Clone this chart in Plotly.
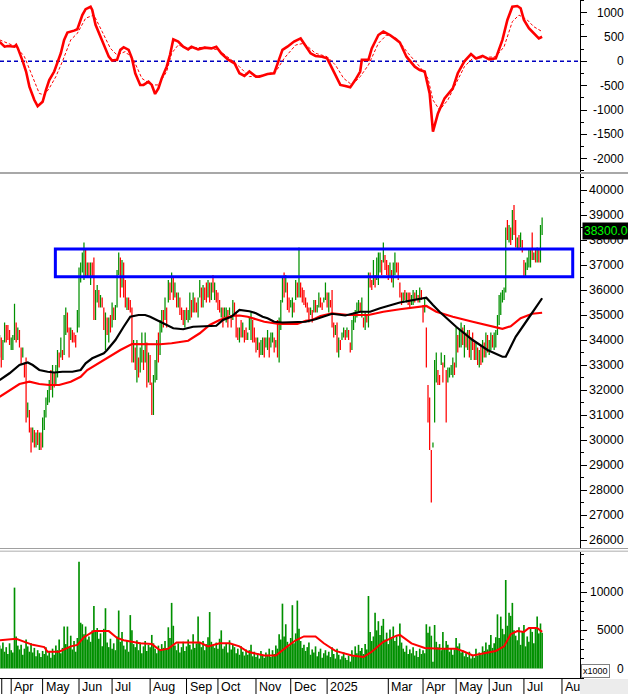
import pandas as pd
import plotly.graph_objects as go

# ---------------- data ----------------
high = [
34200, 34100, 34000, 34700, 34600, 34600, 34400, 34100, 34200, 35450,
34700, 34500, 34400, 33700, 33700, 33100, 33300, 31500, 31200, 30500,
30500, 30400, 30300, 30400, 30300, 30300, 30900, 31200, 31700, 32000,
32400, 32800, 33000, 32700, 33000, 33600, 33500, 34100, 33600, 35000,
35300, 35100, 34500, 34500, 34400, 34300, 34200, 35200, 36900, 37100,
37500, 37900, 37600, 37100, 37100, 37100, 37100, 37300, 36000, 36200,
36000, 35800, 35700, 35300, 35100, 34900, 34900, 35000, 35500, 35300,
35400, 36800, 37500, 37300, 37200, 37100, 36400, 35700, 35700, 35600,
35300, 34000, 33700, 34000, 33300, 33700, 34300, 33600, 34300, 33900,
33500, 33400, 32300, 32600, 33200, 34000, 34300, 34800, 35200, 35200,
35700, 35300, 36400, 36300, 36700, 36500, 36300, 35900, 35900, 35700,
35300, 35200, 35200, 35300, 35200, 35900, 35600, 35900, 35700, 35500,
35700, 36400, 36100, 36200, 36100, 36300, 36400, 36300, 36300, 36600,
36300, 36000, 35900, 35600, 35300, 35300, 35300, 35300, 35200, 35300,
35000, 35600, 35500, 35100, 34500, 34500, 34800, 34700, 34400, 34500,
34300, 34900, 35100, 34800, 34500, 34100, 34100, 33900, 34000, 34100,
34100, 34100, 34400, 34100, 34300, 34300, 34100, 34000, 34800, 34900,
35600, 36500, 36700, 36600, 36300, 35700, 35600, 35700, 35500, 36400,
36300, 37700, 36300, 36100, 36000, 35700, 35500, 35300, 35300, 35200,
35600, 35600, 35400, 35900, 35700, 35500, 35700, 36300, 35900, 35900,
35600, 36000, 34700, 34600, 34700, 34100, 34000, 34300, 34500, 34400,
34500, 34400, 33900, 34800, 35100, 35200, 35500, 35600, 35500, 35700,
34900, 35100, 35000, 36700, 36700, 36400, 37200, 36600, 37300, 37500,
37500, 37200, 37900, 37400, 37200, 37000, 37100, 36800, 37100, 37500,
37100, 37100, 36300, 35900, 35900, 36000, 35900, 35900, 35900, 35800,
36000, 35900, 36000, 35800, 36100, 36000, 35400, 35700, 34500, 32200,
31700, 29600, 29900, 33200, 33500, 32800, 32600, 33500, 33100, 33400,
32800, 32900, 32900, 33000, 33300, 33100, 34500, 34200, 34400, 34700,
34500, 34600, 34300, 34400, 34400, 34100, 34300, 33900, 33900, 33700,
33600, 33800, 34000, 33900, 34300, 34200, 34000, 34300, 34200, 34300,
34400, 35000, 35800, 35900, 36000, 36100, 38500, 38800, 38600, 38500,
39200, 39400, 38800, 38100, 38200, 38300, 38000, 37200, 37100, 37300,
37600, 37600, 38300, 37500, 37600, 37700, 37600, 38600, 38900,
]

low = [
33300, 32900, 33200, 33900, 33900, 34000, 33800, 33600, 33600, 34000,
33900, 34000, 33700, 33000, 33300, 32500, 30700, 30900, 30300, 29500,
29900, 29700, 29700, 29800, 29600, 29600, 29700, 30400, 30900, 31400,
31500, 32000, 31700, 32100, 32200, 32500, 32900, 33300, 33200, 33400,
34200, 34300, 33300, 34000, 33900, 33900, 33700, 34300, 34500, 36300,
36700, 36400, 36500, 36500, 36500, 36200, 36500, 34800, 34800, 35500,
35300, 35300, 35300, 34400, 33600, 34200, 33900, 34300, 34500, 34800,
34800, 35300, 36600, 35700, 36100, 35700, 35300, 35200, 35200, 35100,
33100, 33100, 32800, 32300, 32500, 32700, 33100, 32800, 33100, 32100,
32300, 32200, 31000, 31000, 32300, 32400, 33100, 33400, 34300, 34500,
34800, 34500, 35500, 35600, 35900, 35600, 35700, 35300, 35300, 35000,
34800, 34600, 34500, 34800, 34700, 34800, 34900, 35100, 35100, 35100,
34900, 35700, 35300, 35300, 35600, 35500, 35700, 35500, 35600, 35900,
35600, 35500, 35200, 35100, 34900, 34500, 34900, 34700, 34500, 35000,
34500, 34800, 35000, 34100, 34000, 33900, 34100, 34100, 33900, 34000,
34000, 34400, 34000, 33900, 33900, 33500, 33600, 33300, 33400, 33400,
33300, 33700, 33600, 33300, 33700, 33900, 33500, 33700, 33300, 33100,
34400, 35500, 35700, 35900, 35200, 35100, 35300, 34900, 35100, 35600,
35700, 35700, 35700, 35500, 35400, 35300, 35100, 34700, 35000, 34700,
35100, 35100, 35100, 35300, 35300, 35200, 35500, 35600, 35300, 35100,
35300, 34500, 34100, 34200, 33500, 33300, 33600, 34000, 34100, 34000,
34100, 34000, 33500, 33600, 34400, 34700, 34900, 35100, 35100, 34900,
34500, 34400, 34700, 34500, 36100, 36000, 36200, 36100, 36400, 36200,
36700, 36600, 37100, 36800, 36600, 36400, 36500, 36300, 36100, 36600,
36700, 36400, 35700, 35400, 35500, 35600, 35500, 35400, 35300, 35400,
35400, 35500, 35600, 35500, 35500, 35600, 34700, 35100, 32900, 30700,
29600, 27500, 29700, 30700, 32300, 32200, 32200, 33000, 32300, 32900,
30700, 32300, 32500, 32600, 32500, 32600, 32900, 33500, 33700, 33700,
33800, 33300, 33700, 33600, 33300, 33200, 33600, 33200, 33200, 33000,
32900, 33000, 33100, 33300, 33300, 33500, 33400, 33600, 33700, 33600,
33700, 34200, 34600, 35000, 35500, 35600, 35900, 38000, 37900, 37800,
38000, 38200, 37700, 37600, 37600, 37700, 37500, 36500, 36500, 36800,
36900, 36900, 37200, 37200, 37100, 37100, 37100, 37100, 38200,
]

close = [
33900, 33300, 33800, 34500, 34100, 34050, 33700, 33950, 34000, 35000,
34100, 34300, 33800, 33100, 33500, 32600, 31000, 31100, 30600, 29700,
30300, 29800, 30100, 29900, 30200, 29750, 30700, 31000, 31600, 31900,
32200, 32100, 32500, 32300, 32800, 33400, 33100, 33900, 33400, 34800,
35000, 34500, 34000, 34300, 34200, 34000, 33800, 35000, 36700, 36900,
37300, 37500, 36700, 36900, 36600, 36900, 36600, 35000, 35800, 36000,
35500, 35600, 35400, 34600, 34900, 34300, 34700, 34500, 35300, 35100,
35200, 36600, 37200, 36000, 36200, 35900, 35500, 35600, 35300, 35200,
33400, 33800, 33000, 33600, 32700, 33500, 34000, 33000, 34100, 32400,
33200, 32500, 31100, 32400, 33000, 33800, 33400, 34600, 35000, 34800,
35500, 35000, 36200, 35800, 36500, 35800, 35900, 35500, 35700, 35200,
35100, 34800, 35000, 34900, 35100, 35700, 35200, 35600, 35300, 35200,
35500, 36200, 35500, 35900, 35700, 35600, 36200, 35800, 36300, 36000,
36100, 35700, 35400, 35200, 35250, 34700, 35100, 35200, 34800, 35100,
34700, 35400, 35100, 34300, 34100, 34400, 34300, 34500, 34100, 34000,
34200, 34500, 34900, 34100, 34000, 33600, 33900, 33400, 33800, 33900,
33500, 33800, 34200, 33600, 34000, 34100, 33700, 33900, 33500, 34700,
35400, 36300, 35900, 36000, 35400, 35300, 35500, 35600, 35200, 36200,
36000, 36200, 35900, 35700, 35500, 35400, 35200, 34900, 35200, 34900,
35500, 35300, 35350, 35800, 35400, 35300, 35600, 36100, 35600, 35800,
35400, 34700, 34400, 34500, 33700, 34000, 33800, 34200, 34400, 34100,
34400, 34100, 33600, 34600, 35000, 35100, 35300, 35500, 35300, 35600,
34600, 35000, 34800, 36500, 36200, 36100, 37000, 36300, 37100, 37300,
37400, 36800, 37700, 37000, 36800, 36500, 36900, 36400, 36900, 37300,
36800, 36500, 35800, 35600, 35800, 35700, 35800, 35500, 35400, 35700,
35900, 35700, 35900, 35600, 36000, 35700, 34800, 35500, 33000, 30800,
29700, 27600, 29800, 32900, 33300, 32300, 32250, 33400, 32500, 33200,
32100, 32600, 32800, 32900, 33100, 32800, 34300, 34000, 34200, 34500,
33900, 34400, 33800, 34200, 33500, 33900, 33700, 33400, 33700, 33200,
33400, 33200, 33800, 33500, 34100, 33700, 33800, 34100, 33900, 34200,
34300, 34800, 35600, 35700, 35900, 36000, 38400, 38200, 38500, 38000,
38900, 38400, 37900, 38000, 37700, 38100, 37600, 36600, 36900, 37000,
37400, 37500, 37300, 37400, 37200, 37500, 37200, 38000, 38300,
]

volume = [
3000, 2600, 3400, 2200, 2800, 1900, 3300, 2400, 2100, 10600,
4200, 3000, 2500, 3100, 1800, 2600, 3800, 2900, 2200, 3300,
2100, 2700, 1600, 2400, 2000, 1500, 2300, 1900, 2800, 1700,
2200, 1400, 2600, 1800, 3000, 2400, 3800, 2000, 2700, 5500,
3200, 5500, 2800, 4300, 2500, 3600, 2200, 4000, 14000, 6000,
5800, 4500, 5500, 3800, 4200, 3500, 5000, 8200, 4800, 5300,
3900, 4600, 2900, 5200, 7900, 3400, 2800, 3900, 2600, 3300,
2400, 4200, 7600, 3500, 4800, 3000, 2500, 3600, 2200, 7000,
5000, 3200, 2800, 3700, 2400, 3400, 2000, 2900, 3600, 2300,
3100, 2800, 4400, 3300, 2600, 2000, 3000, 2500, 3200, 2700,
3600, 2600, 5400, 4000, 8600, 5600, 3000, 2400, 3300, 2100,
2800, 3500, 2300, 2900, 3800, 3100, 2500, 4500, 2700, 3300,
6800, 3400, 2800, 3600, 2400, 3200, 4100, 7400, 3500, 3000,
2700, 3400, 2600, 3900, 5000, 2600, 2900, 3300, 2100, 3700,
2500, 3200, 2800, 2000, 2600, 1800, 2900, 2200, 1700, 2500,
1800, 2400, 3100, 1600, 2200, 1500, 2000, 1300, 2300, 1700,
1400, 2100, 1800, 2600, 1500, 2400, 1900, 3000, 2600, 4500,
3800, 8500, 4200, 5800, 3500, 2900, 4000, 8300, 3300, 4600,
8900, 5200, 3600, 2700, 3100, 2300, 2800, 3400, 1800, 2500,
2100, 2900, 1600, 2200, 2600, 1400, 2000, 2400, 1700, 2200,
1500, 2800, 1900, 1300, 2600, 1800, 1200, 1600, 2100, 1400,
1100, 1700, 900, 2400, 1600, 2900, 2000, 3100, 2300, 2700,
1900, 3200, 2500, 9500, 4800, 3600, 4200, 7300, 5000, 6200,
4400, 5600, 6500, 3800, 4700, 3200, 5100, 3900, 5500, 3600,
4200, 3000, 5900, 3400, 2600, 2200, 3000, 1900, 2500, 2000,
2800, 1700, 2300, 1500, 2600, 1900, 2400, 2000, 5800, 4700,
5500, 4300, 900, 5700, 3500, 2800, 3200, 2400, 4800, 2600,
3600, 3100, 2200, 2700, 1800, 2500, 4000, 2900, 3300, 2100,
2400, 1600, 2000, 1500, 2200, 1300, 1800, 1400, 2600, 1700,
2100, 1800, 2900, 2300, 3400, 2500, 3100, 4400, 2700, 3300,
4100, 7100, 4000, 6800, 5200, 4500, 11600, 5600, 7300, 6900,
8600, 5000, 4300, 3700, 5400, 3100, 4800, 5700, 2900, 4200,
3500, 5300, 4800, 3300, 5400, 6800, 4600, 5900, 4700,
]

# moving averages of price (bar index, value)
ma_black_idx = [0, 6, 12, 17, 20, 24, 29, 33, 38, 44, 49, 52, 56, 63, 65, 70, 75, 79, 84, 88,
                91, 97, 105, 111, 117, 124, 131, 135, 140, 145, 151, 155, 159, 162, 166, 171, 177, 185, 191, 201,
                209, 218, 224, 230, 242, 252, 258, 262, 266, 276, 286, 295, 304, 306, 312, 319, 328]
ma_black_val = [32400, 32670, 33000, 33100, 33000, 32800, 32730, 32700, 32730, 32730, 32800, 33070, 33270, 33470, 33600, 34000, 34530, 34930, 35000, 35000,
                34930, 34730, 34470, 34430, 34530, 34550, 34570, 34800, 34930, 35200, 35150, 35070, 34930, 34870, 34730, 34700, 34700, 34730, 34830, 35050,
                34980, 35130, 35130, 35270, 35500, 35600, 35690, 35400, 35130, 34530, 34000, 33600, 33330, 33330, 34130, 34800, 35670]
ma_red_idx = [0, 6, 12, 18, 24, 30, 36, 43, 49, 53, 63, 73, 80, 92, 97, 104, 114, 121, 127, 133,
              140, 145, 150, 160, 169, 180, 185, 189, 194, 201, 211, 223, 232, 242, 252, 258, 264, 274, 286, 296,
              304, 309, 315, 322, 328]
ma_red_val = [31730, 32000, 32240, 32330, 32240, 32200, 32200, 32330, 32530, 32800, 33200, 33600, 33840, 33850, 33830, 33870, 33970, 34270, 34600, 34800,
              34960, 34980, 34930, 34730, 34640, 34640, 34770, 34800, 34960, 35070, 35000, 35000, 35130, 35230, 35320, 35360, 35130, 34930, 34730, 34560,
              34450, 34550, 34870, 35050, 35090]

# MACD and its signal line
macd_idx = [0, 3, 5, 9, 10, 11, 14, 16, 18, 21, 23, 26, 28, 30, 33, 35, 37, 39, 41, 45,
            47, 50, 52, 55, 56, 58, 61, 64, 66, 68, 71, 73, 75, 78, 80, 82, 85, 87, 90, 92,
            94, 96, 98, 101, 103, 105, 108, 111, 114, 116, 120, 124, 128, 131, 134, 138, 142, 145, 148, 151,
            155, 157, 162, 166, 168, 171, 174, 178, 182, 184, 188, 191, 195, 198, 202, 206, 209, 212, 215, 218,
            219, 223, 225, 229, 232, 236, 240, 242, 246, 251, 254, 257, 260, 262, 265, 269, 274, 277, 281, 285,
            288, 292, 296, 300, 304, 307, 310, 313, 315, 317, 320, 323, 326, 328]
macd_val = [400, 300, 315, 300, 335, 270, 0, -210, -520, -795, -920, -830, -590, -385, -210, 0, 165, 440, 590, 630,
            660, 950, 1070, 1120, 1055, 750, 510, 270, 95, 15, 30, 235, 290, 235, 60, -245, -485, -485, -420, -485,
            -670, -555, -350, -110, 130, 450, 405, 300, 245, 300, 245, 280, 265, 300, 165, 40, -40, -245, -300, -210,
            -315, -315, -260, -245, -40, 235, 300, 405, 470, 370, 165, 110, 95, 60, -210, -485, -505, -535, -385, -210,
            30, 30, 265, 540, 610, 540, 440, 385, 95, -110, -180, -210, -660, -1445, -1070, -760, -555, -245, 0, 150,
            60, 110, 40, 60, 440, 850, 1120, 1135, 1090, 850, 680, 575, 470, 505]
signal_idx = [0, 10, 15, 20, 24, 27, 30, 34, 38, 43, 47, 52, 57, 62, 67, 71, 76, 81, 86, 92,
              96, 101, 104, 108, 114, 124, 132, 139, 145, 151, 160, 167, 172, 179, 184, 191, 198, 203, 208, 213,
              218, 223, 229, 234, 240, 247, 254, 259, 262, 266, 271, 276, 281, 286, 293, 300, 305, 310, 314, 319,
              323, 328]
signal_val = [440, 300, 95, -315, -660, -690, -555, -315, 0, 440, 575, 885, 950, 610, 265, 130, 200, 30, -350, -485,
              -485, -210, 165, 335, 265, 290, 235, 60, -110, -315, -280, -210, 60, 335, 370, 165, 95, -75, -350, -485,
              -315, -75, 370, 540, 470, 165, -110, -350, -795, -1000, -795, -450, -110, 60, 80, 95, 300, 815, 950, 850,
              710, 610]

# volume moving average
vma_idx = [0, 10, 20, 27, 29, 36, 43, 47, 51, 57, 66, 71, 75, 85, 92, 97, 102, 107, 121, 126,
           133, 139, 145, 150, 160, 167, 174, 179, 184, 191, 196, 203, 213, 220, 225, 232, 240, 242, 249, 257,
           266, 276, 281, 286, 293, 300, 305, 309, 313, 317, 320, 325, 328]
vma_val = [3700, 3900, 3100, 2800, 2200, 2200, 2900, 3100, 4100, 4900, 4900, 4000, 3700, 3300, 3200, 2400, 2600, 3400, 3400, 2900,
           3300, 3300, 2900, 2200, 1700, 1700, 2900, 3700, 4200, 4200, 3300, 2300, 1700, 1500, 2200, 3500, 4300, 4400, 3300, 2700,
           2600, 2600, 2200, 1700, 2000, 2300, 2900, 4500, 4900, 4800, 5300, 5300, 4800]

# axis labels
macd_ticks = [1000, 500, 0, -500, -1000, -1500, -2000]
price_ticks = [40000, 39000, 38000, 37000, 36000, 35000, 34000, 33000, 32000, 31000, 30000, 29000, 28000, 27000, 26000]
vol_ticks = [10000, 5000, 0]
month_keys = ["2024-04", "2024-05", "2024-06", "2024-07", "2024-08", "2024-09", "2024-10", "2024-11",
              "2024-12", "2025-01", "2025-03", "2025-04", "2025-05", "2025-06", "2025-07", "2025-08"]
month_labels = ["Apr", "May", "Jun", "Jul", "Aug", "Sep", "Oct", "Nov", "Dec", "2025",
                "Mar", "Apr", "May", "Jun", "Jul", "Au"]
last_label = "38300.00"
zone_low, zone_high = 36530, 37640

n = len(close)
assert len(high) == n and len(low) == n and len(volume) == n, (len(high), len(low), n, len(volume))

# trading calendar (weekdays minus exchange holidays)
holidays = pd.to_datetime(["2024-04-18", "2024-04-29", "2024-04-30", "2024-05-01", "2024-09-02", "2024-09-03",
                           "2025-01-01", "2025-01-27", "2025-01-28", "2025-01-29", "2025-01-30", "2025-01-31",
                           "2025-04-07", "2025-04-30", "2025-05-01", "2025-05-02"])
cal = pd.bdate_range("2024-03-21", "2025-08-29")
cal = cal[~cal.isin(holidays)]
periods = [d.strftime("%Y-%m") for d in cal]
month_pos = [periods.index(k) for k in month_keys]

xs = list(range(n))
GREEN = "#009000"
RED = "#ff0000"
bar_colors = [GREEN if (i == 0 or close[i] >= close[i - 1]) else RED for i in range(n)]

# ---------------- geometry ----------------
W, H = 628, 694
ML, MR, MT, MB = 0, 48, 0, 15
PW, PH = W - ML - MR, H - MT - MB
X_RANGE = [0.23, 350.9]


def fy(px):  # pixel row (from top of plot area) -> paper y
    return (PH - px) / PH


FONT = "Liberation Sans, Arial, sans-serif"

fig = go.Figure()

# MACD panel
fig.add_trace(go.Scatter(x=signal_idx, y=signal_val, mode="lines",
                         line=dict(color=RED, width=1, dash="3px,2px"), xaxis="x", yaxis="y", hoverinfo="skip"))
fig.add_trace(go.Scatter(x=macd_idx, y=macd_val, mode="lines",
                         line=dict(color=RED, width=2.6), xaxis="x", yaxis="y", hoverinfo="skip"))

# price panel
fig.add_trace(go.Bar(x=xs, y=[h - l for h, l in zip(high, low)], base=low, width=0.75,
                     marker=dict(color=bar_colors, line=dict(width=0)), xaxis="x2", yaxis="y2", hoverinfo="skip"))
fig.add_trace(go.Scatter(x=ma_red_idx, y=ma_red_val, mode="lines", line=dict(color=RED, width=2.2),
                         xaxis="x2", yaxis="y2", hoverinfo="skip"))
fig.add_trace(go.Scatter(x=ma_black_idx, y=ma_black_val, mode="lines", line=dict(color="#000000", width=2.2),
                         xaxis="x2", yaxis="y2", hoverinfo="skip"))

# volume panel
fig.add_trace(go.Bar(x=xs, y=volume, width=1.0, marker=dict(color=GREEN, line=dict(width=0)),
                     xaxis="x3", yaxis="y3", hoverinfo="skip"))
fig.add_trace(go.Scatter(x=vma_idx, y=vma_val, mode="lines", line=dict(color=RED, width=2),
                         xaxis="x3", yaxis="y3", hoverinfo="skip"))

xcommon = dict(range=X_RANGE, showgrid=False, zeroline=False, showticklabels=False, ticks="",
               showline=False, domain=[0, 1])
ycommon = dict(side="right", showgrid=False, zeroline=False, showline=True, linecolor="black", linewidth=1,
               ticks="outside", ticklen=6, tickcolor="black", tickwidth=1, showticklabels=False)

macd_dom = [fy(172), 1.0]
price_dom = [fy(548), fy(174)]
vol_dom = [0.0, fy(552)]

fig.update_layout(
    width=W, height=H, margin=dict(l=ML, r=MR, t=MT, b=MB, autoexpand=False),
    paper_bgcolor="white", plot_bgcolor="white", showlegend=False, barmode="overlay",
    xaxis=dict(anchor="y", **xcommon),
    xaxis2=dict(anchor="y2", matches="x", **xcommon),
    xaxis3=dict(anchor="y3", matches="x", **xcommon),
    yaxis=dict(anchor="x", domain=macd_dom, range=[-2273, 1259], tickvals=macd_ticks,
               minor=dict(ticks="outside", ticklen=3, dtick=250, tickcolor="black", showgrid=False), **ycommon),
    yaxis2=dict(anchor="x2", domain=price_dom, range=[25680, 40640], tickvals=price_ticks,
                minor=dict(ticks="outside", ticklen=3, dtick=500, tickcolor="black", showgrid=False), **ycommon),
    yaxis3=dict(anchor="x3", domain=vol_dom, range=[-1376, 15269], tickvals=vol_ticks,
                minor=dict(ticks="outside", ticklen=3, dtick=1250, tickcolor="black", showgrid=False), **ycommon),
)

shapes = []
# zero line of MACD
shapes.append(dict(type="line", xref="paper", x0=0, x1=1, yref="y", y0=0, y1=0,
                   line=dict(color="#0000c0", width=1.5, dash="4px,3px"), layer="below"))
# resistance zone box
shapes.append(dict(type="rect", xref="x2", yref="y2", x0=33.7, x1=346.5, y0=zone_low, y1=zone_high,
                   line=dict(color="#0000ff", width=3), fillcolor="rgba(0,0,0,0)"))
# panel separators
xr = W / PW
shapes.append(dict(type="rect", xref="paper", yref="paper", x0=0, x1=xr, y0=fy(174), y1=fy(172),
                   fillcolor="#a8a8a8", line=dict(width=0)))
shapes.append(dict(type="rect", xref="paper", yref="paper", x0=0, x1=xr, y0=fy(549), y1=fy(548),
                   fillcolor="#a0a0a0", line=dict(width=0)))
shapes.append(dict(type="rect", xref="paper", yref="paper", x0=0, x1=xr, y0=fy(552), y1=fy(550.5),
                   fillcolor="#c8c8c8", line=dict(width=0)))
# date strip
shapes.append(dict(type="rect", xref="paper", yref="paper", x0=1, x1=xr, y0=-MB / PH, y1=0,
                   fillcolor="#ececec", line=dict(width=0)))
shapes.append(dict(type="line", xref="paper", yref="paper", x0=0, x1=1, y0=0.0007, y1=0.0007,
                   line=dict(color="black", width=1)))
shapes.append(dict(type="line", xref="paper", yref="paper", x0=0.003, x1=0.003, y0=-MB / PH, y1=0,
                   line=dict(color="black", width=1)))
for p in month_pos:
    shapes.append(dict(type="line", xref="x", yref="paper", x0=p, x1=p, y0=-MB / PH, y1=0,
                       line=dict(color="black", width=1)))
fig.update_layout(shapes=shapes)

ann = []
LX = 626 / PW
for v in macd_ticks:
    ann.append(dict(x=LX, xref="paper", xanchor="right", y=v, yref="y", yanchor="middle", text=str(v),
                    showarrow=False, font=dict(family=FONT, size=12, color="black")))
for v in price_ticks:
    ann.append(dict(x=LX, xref="paper", xanchor="right", y=v, yref="y2", yanchor="middle", text=str(v),
                    showarrow=False, font=dict(family=FONT, size=12.5, color="black")))
for v in vol_ticks:
    ann.append(dict(x=LX, xref="paper", xanchor="right", y=v, yref="y3", yanchor="middle", text=str(v),
                    showarrow=False, font=dict(family=FONT, size=12, color="black")))
ann.append(dict(x=581 / PW, xref="paper", xanchor="left", y=fy(671), yref="paper", yanchor="middle",
                text="x1000", showarrow=False, font=dict(family=FONT, size=9, color="black"),
                bordercolor="#808080", borderwidth=1, borderpad=1, bgcolor="white"))
for p, lab in zip(month_pos, month_labels):
    ann.append(dict(x=p, xref="x", xanchor="left", xshift=1, y=-7.5 / PH, yref="paper", yanchor="middle",
                    text=lab, showarrow=False, font=dict(family=FONT, size=12.5, color="black")))
ann.append(dict(x=582 / PW, xref="paper", xanchor="left", y=close[-1] + 50, yref="y2", yanchor="middle",
                text=last_label, showarrow=False, font=dict(family=FONT, size=12, color="#00ff00"),
                bgcolor="black", borderpad=1))
fig.update_layout(annotations=ann)

fig.write_html("out.html", config={"displayModeBar": False, "staticPlot": True},
               post_script="document.body.style.margin='0px';document.body.style.overflow='hidden';")
